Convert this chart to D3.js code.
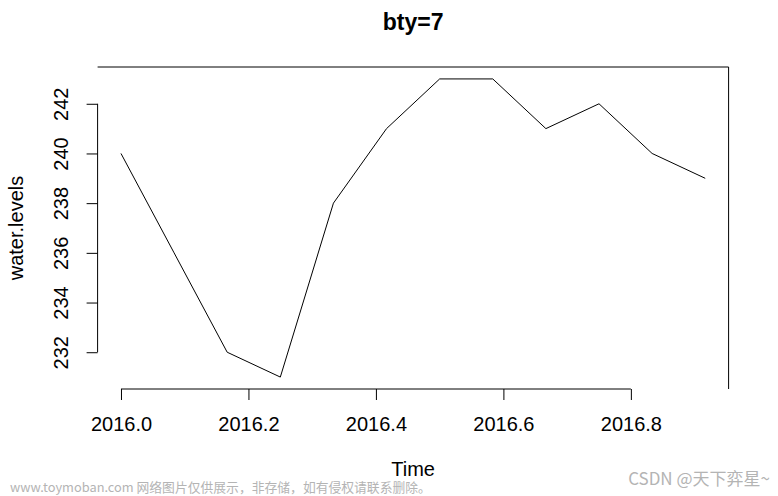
<!DOCTYPE html>
<html><head><meta charset="utf-8">
<script src="https://cdn.jsdelivr.net/npm/d3@7"></script>
<style>body{margin:0;background:#fff}svg{display:block}</style>
</head><body>
<svg id="c" width="778" height="496"></svg>
<script>
const times = [2016.0,2016+1/12,2016+2/12,2016+3/12,2016+4/12,2016+5/12,2016+6/12,2016+7/12,2016+8/12,2016+9/12,2016+10/12,2016+11/12];
const waterLevels = [240,236,232,231,238,241,243,243,241,242,240,239];
const xTicks = [2016.0,2016.2,2016.4,2016.6,2016.8];
const yTicks = [232,234,236,238,240,242];
const title = "bty=7";
const xLabel = "Time";
const yLabel = "water.levels";

const svg = d3.select("#c");
const font = "'Liberation Sans', Arial, sans-serif";
const L = 97.6, R = 728.6, T = 67, B = 389;
const xmin = d3.min(times), xmax = d3.max(times), xr = xmax - xmin;
const ymin = d3.min(waterLevels), ymax = d3.max(waterLevels), yr = ymax - ymin;
const x = d3.scaleLinear().domain([xmin - 0.04*xr, xmax + 0.04*xr]).range([L, R]);
const y = d3.scaleLinear().domain([ymin - 0.04*yr, ymax + 0.04*yr]).range([B, T]);

// box type 7: top and right
svg.append("path").attr("d", `M${L},${T}H${R}V${B}`).attr("fill","none").attr("stroke","#000").attr("stroke-width",1);

// line
svg.append("path").datum(times.map((t,i)=>[t,waterLevels[i]]))
  .attr("d", d3.line().x(d=>x(d[0])).y(d=>y(d[1])))
  .attr("fill","none").attr("stroke","#000").attr("stroke-width",1);

// x axis
const gx = svg.append("g").attr("transform",`translate(0,${B})`)
  .call(d3.axisBottom(x).tickValues(xTicks).tickFormat(d3.format(".1f")).tickSize(11).tickPadding(17).tickSizeOuter(0));
gx.select(".domain").attr("d", `M${x(xTicks[0])},0H${x(xTicks[xTicks.length-1])}`);
gx.selectAll("text").attr("font-family",font).attr("font-size",20).attr("fill","#000");

// y axis
const gy = svg.append("g").attr("transform",`translate(${L},0)`)
  .call(d3.axisLeft(y).tickValues(yTicks).tickSize(11).tickSizeOuter(0));
gy.select(".domain").attr("d", `M0,${y(yTicks[0])}V${y(yTicks[yTicks.length-1])}`);
gy.selectAll(".tick text").attr("font-family",font).attr("font-size",20).attr("fill","#000")
  .attr("x",null).attr("dy",null).attr("text-anchor","middle")
  .attr("transform","translate(-35,0) rotate(-90)").attr("dominant-baseline","middle");

svg.selectAll(".tick line, .domain").attr("stroke","#000");

svg.append("text").attr("x",(L+R)/2).attr("y",30).attr("text-anchor","middle")
  .attr("font-family",font).attr("font-weight","bold").attr("font-size",23).text(title);
svg.append("text").attr("x",(L+R)/2).attr("y",476).attr("text-anchor","middle")
  .attr("font-family",font).attr("font-size",20).text(xLabel);
svg.append("text").attr("transform",`translate(23,${(T+B)/2}) rotate(-90)`).attr("text-anchor","middle")
  .attr("font-family",font).attr("font-size",20).text(yLabel);

// watermarks
svg.append("text").attr("x",10).attr("y",492).attr("font-family","'Noto Sans CJK SC', sans-serif")
  .attr("font-size",12.8).attr("fill","#b4b4b4").text("www.toymoban.com 网络图片仅供展示，非存储，如有侵权请联系删除。");
svg.append("text").attr("x",770).attr("y",485).attr("text-anchor","end").attr("font-family","'Noto Sans CJK SC', sans-serif")
  .attr("font-size",17).attr("fill","#b4b4b4").text("CSDN @天下弈星~");
</script>
</body></html>
